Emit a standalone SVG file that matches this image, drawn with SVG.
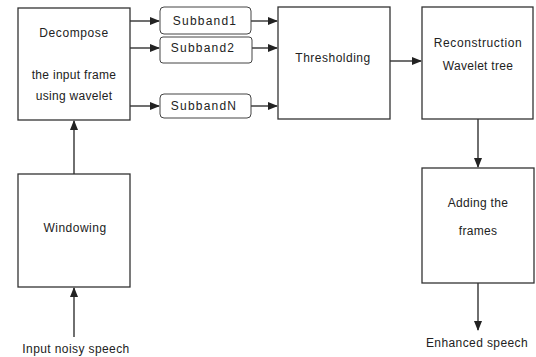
<svg xmlns="http://www.w3.org/2000/svg" width="536" height="357" viewBox="0 0 536 357">
<style>
.box{fill:#fff;stroke:#333;stroke-width:1.3}
.sb{fill:#fff;stroke:#444;stroke-width:1}
text{font-family:"Liberation Sans",Arial,sans-serif;font-size:12px;fill:#222;text-anchor:middle}
.l{stroke:#222;stroke-width:1.3;fill:none}
</style>
<defs>
<marker id="ah" markerWidth="10" markerHeight="8" refX="9" refY="4" orient="auto" markerUnits="userSpaceOnUse">
<path d="M0,0 L10,4 L0,8 z" fill="#222"/>
</marker>
</defs>
<rect width="536" height="357" fill="#fff"/>
<g id="connectors">
<line class="l" x1="130" y1="21" x2="159" y2="21" marker-end="url(#ah)"/>
<line class="l" x1="130" y1="48" x2="159" y2="48" marker-end="url(#ah)"/>
<line class="l" x1="130" y1="106" x2="159" y2="106" marker-end="url(#ah)"/>
<line class="l" x1="251" y1="21" x2="277" y2="21" marker-end="url(#ah)"/>
<line class="l" x1="252" y1="48" x2="277" y2="48" marker-end="url(#ah)"/>
<line class="l" x1="251" y1="106" x2="277" y2="106" marker-end="url(#ah)"/>
<line class="l" x1="390" y1="61" x2="421" y2="61" marker-end="url(#ah)"/>
<line class="l" x1="478" y1="119" x2="478" y2="167" marker-end="url(#ah)"/>
<line class="l" x1="478" y1="283" x2="478" y2="330" marker-end="url(#ah)"/>
<line class="l" x1="74" y1="174" x2="74" y2="121" marker-end="url(#ah)"/>
<line class="l" x1="74" y1="337" x2="74" y2="288" marker-end="url(#ah)"/>
</g>
<g id="decompose">
<rect class="box" x="18" y="8" width="112" height="112"/>
<text x="74" y="37" letter-spacing="0.6">Decompose</text>
<text x="74" y="79" letter-spacing="0.3">the input frame</text>
<text x="74" y="100" letter-spacing="0.3">using wavelet</text>
</g>
<g id="subband1">
<rect class="sb" x="160" y="7" width="91" height="27" rx="4"/>
<text x="205" y="25" letter-spacing="1.2">Subband1</text>
</g>
<g id="subband2">
<rect class="sb" x="160" y="37" width="92" height="26" rx="3"/>
<text x="203" y="52" letter-spacing="1.2">Subband2</text>
</g>
<g id="subbandN">
<rect class="sb" x="160" y="94" width="91" height="24" rx="4"/>
<text x="204" y="110" letter-spacing="1.2">SubbandN</text>
</g>
<g id="thresholding">
<rect class="box" x="278" y="7" width="112" height="112"/>
<text x="333" y="62" letter-spacing="0.5">Thresholding</text>
</g>
<g id="reconstruction">
<rect class="box" x="422" y="7" width="111" height="112"/>
<text x="478" y="47" letter-spacing="0.6">Reconstruction</text>
<text x="478" y="70" letter-spacing="0.3">Wavelet tree</text>
</g>
<g id="adding">
<rect class="box" x="422" y="168" width="112" height="115"/>
<text x="478" y="207" letter-spacing="0.3">Adding the</text>
<text x="478" y="235" letter-spacing="0.3">frames</text>
</g>
<g id="windowing">
<rect class="box" x="18" y="174" width="112" height="113"/>
<text x="75" y="232" letter-spacing="0.5">Windowing</text>
</g>
<g id="labels">
<text x="76" y="353" letter-spacing="0.4">Input noisy speech</text>
<text x="477" y="347" letter-spacing="0.4">Enhanced speech</text>
</g>
</svg>
